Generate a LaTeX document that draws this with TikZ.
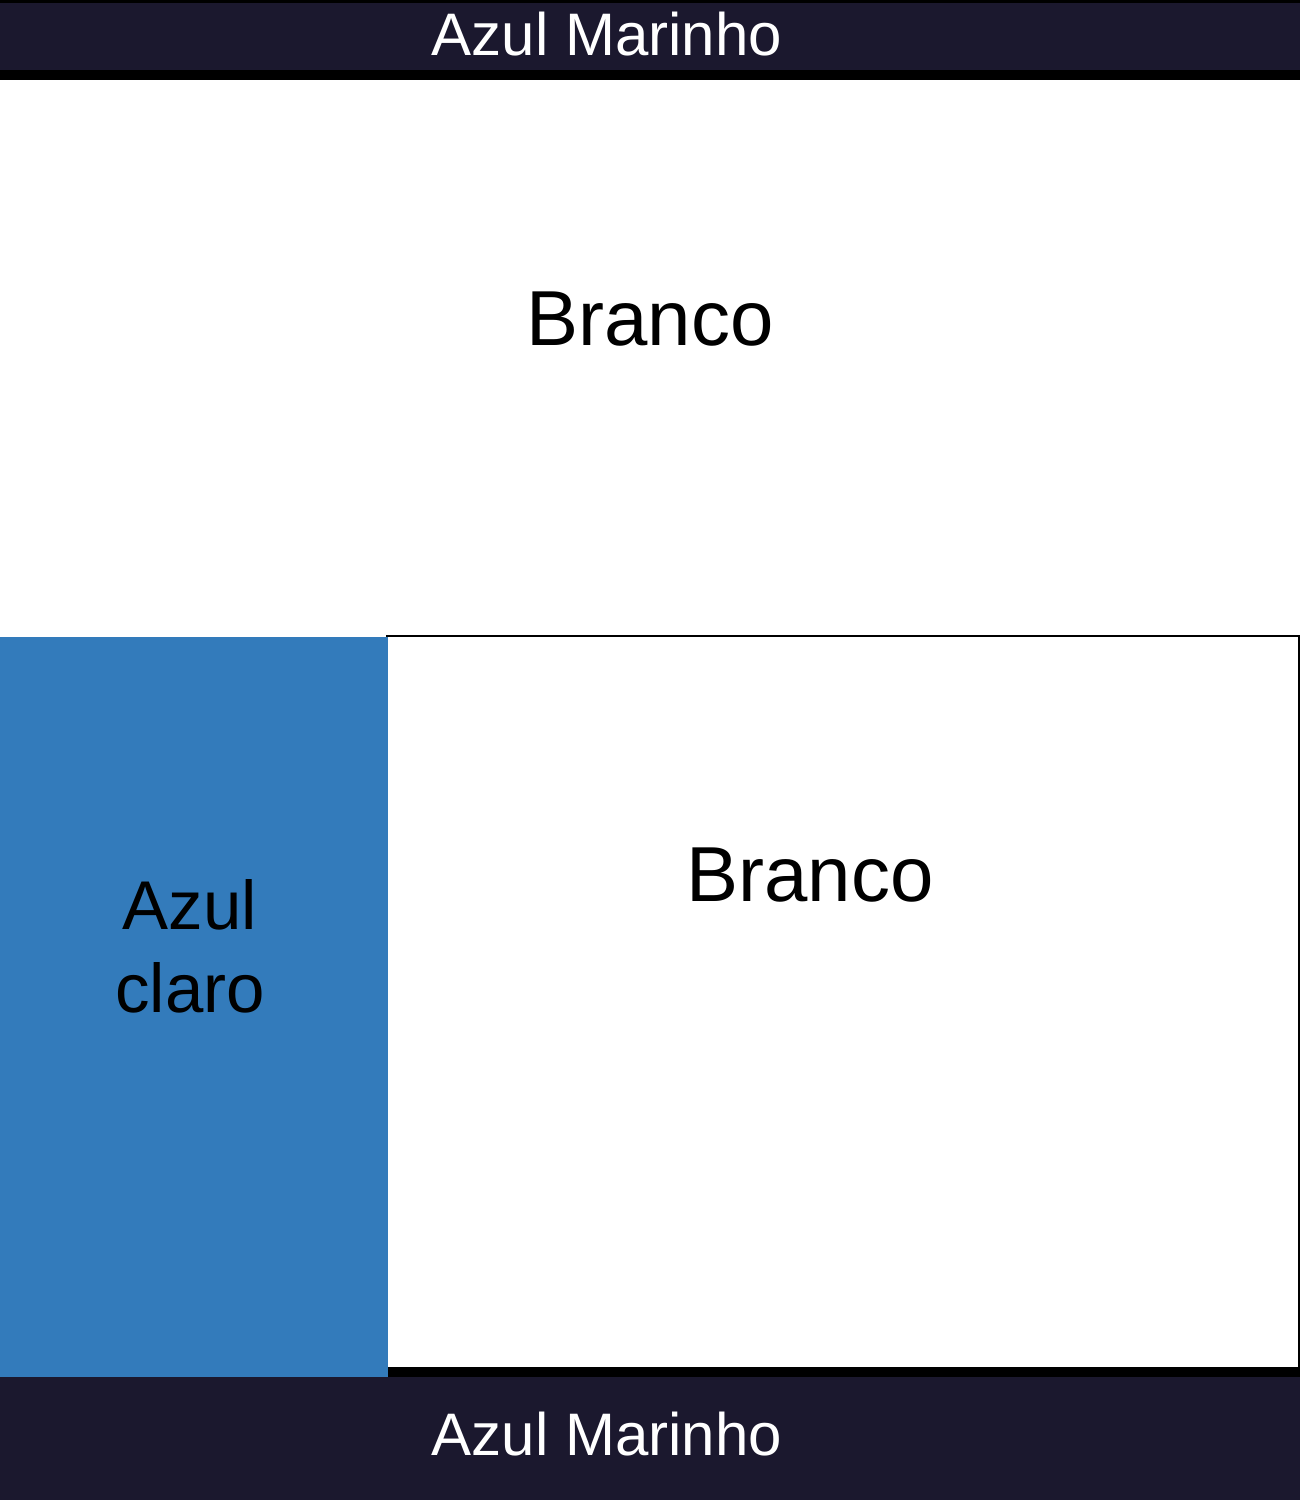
\documentclass[tikz,border=0pt]{standalone}
\usepackage{fontspec}
\setmainfont{Liberation Sans}
\definecolor{navy}{HTML}{1B182E}
\definecolor{lightblue}{HTML}{337BBB}
\begin{document}
\begin{tikzpicture}[x=0.5pt,y=-0.5pt,
  bar/.style={fill=navy,draw=none},
  barlabel/.style={text=white,font=\fontsize{30}{36}\selectfont,anchor=base,inner sep=0pt},
  biglabel/.style={text=black,font=\fontsize{39}{46}\selectfont,anchor=base,inner sep=0pt}]
\useasboundingbox (0,0) rectangle (1300,1500);
% top bar
\fill[black] (0,0) rectangle (1300,80);
\fill[navy] (0,3) rectangle (1300,70);
\node[barlabel] (topbar) at (607,55) {Azul Marinho};
% top white area label
\node[biglabel] (branco1) at (650,345) {Branco};
% white box
\draw[black,line width=0.6pt,fill=white] (387,636) rectangle (1299,1372);
\fill[black] (387,1367) rectangle (1300,1377);
% light blue box
\fill[lightblue] (0,637) rectangle (388,1377);
\node[text=black,font=\fontsize{34.5}{41.5}\selectfont,align=center,inner sep=0pt] (azulclaro) at (190,946) {Azul\\claro};
\node[biglabel] (branco2) at (810,901) {Branco};
% bottom bar
\fill[navy] (0,1377) rectangle (1300,1500);
\node[barlabel] (botbar) at (607,1455) {Azul Marinho};
\end{tikzpicture}
\end{document}
